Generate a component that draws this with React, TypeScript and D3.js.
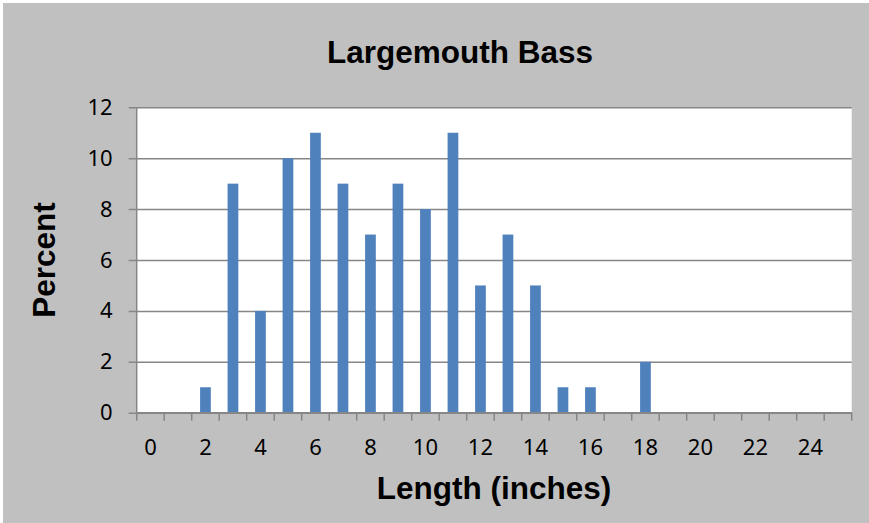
import { useEffect, useRef } from "react";
import * as d3 from "d3";

const LENGTHS = d3.range(0, 26).map(String);
const PERCENT = [0, 0, 1, 9, 4, 10, 11, 9, 7, 9, 8, 11, 5, 7, 5, 1, 1, 0, 2, 0, 0, 0, 0, 0, 0, 0];
const Y_TICKS = [0, 2, 4, 6, 8, 10, 12];
const X_LABELS = ["0", "2", "4", "6", "8", "10", "12", "14", "16", "18", "20", "22", "24"];

export default function App() {
  const svgRef = useRef<SVGSVGElement>(null);

  useEffect(() => {
    document.body.style.margin = "0";
    if (!svgRef.current) return;

    const svg = d3.select(svgRef.current);
    svg.selectAll("*").remove();

    const width = 869;
    const height = 523;
    const plot = { left: 136.7, right: 851.7, top: 107.3, bottom: 412.7 };
    const grid = "#868686";

    svg.append("rect").attr("width", width).attr("height", height).attr("fill", "#fff");
    svg.append("rect")
      .attr("x", 3).attr("y", 3)
      .attr("width", width - 3).attr("height", height - 3)
      .attr("fill", "#c0c0c0");

    const x = d3.scaleBand().domain(LENGTHS).range([plot.left, plot.right]);
    const y = d3.scaleLinear().domain([0, 12]).range([plot.bottom, plot.top]);

    // plot area
    svg.append("rect")
      .attr("x", plot.left).attr("y", plot.top)
      .attr("width", plot.right - plot.left).attr("height", plot.bottom - plot.top)
      .attr("fill", "#fff");

    // Y axis + gridlines
    svg.append("g")
      .attr("transform", `translate(${plot.left},0)`)
      .call(d3.axisLeft(y).tickValues(Y_TICKS).tickSize(8).tickPadding(16))
      .call((g) => {
        g.select(".domain").attr("stroke", grid).attr("stroke-width", 1.5).attr("d", `M0,${plot.top}V${plot.bottom}`);
        g.selectAll(".tick line").attr("stroke", grid).attr("stroke-width", 1.5)
          .attr("x1", plot.right - plot.left);
        g.selectAll(".tick text").attr("fill", "#000").attr("font-family", "Noto Sans").attr("font-size", "22px");
      });

    // X axis ticks at band edges
    const edges = d3.range(0, LENGTHS.length + 1).map((i) => plot.left + i * x.step());
    svg.append("g").selectAll("line")
      .data(edges)
      .join("line")
      .attr("x1", (d) => d).attr("x2", (d) => d)
      .attr("y1", plot.bottom).attr("y2", plot.bottom + 8)
      .attr("stroke", grid).attr("stroke-width", 1.5);

    // Bars
    const barW = x.bandwidth() * 0.39;
    svg.append("g").selectAll("rect")
      .data(PERCENT.map((v, i) => ({ label: LENGTHS[i], v })).filter((d) => d.v > 0))
      .join("rect")
      .attr("x", (d) => x(d.label)! + (x.bandwidth() - barW) / 2)
      .attr("y", (d) => y(d.v))
      .attr("width", barW)
      .attr("height", (d) => y(0) - y(d.v))
      .attr("fill", "#4f81bd");

    svg.append("line")
      .attr("x1", plot.left).attr("x2", plot.right)
      .attr("y1", plot.bottom).attr("y2", plot.bottom)
      .attr("stroke", grid).attr("stroke-width", 1.5);

    // X labels
    svg.append("g").selectAll("text")
      .data(X_LABELS)
      .join("text")
      .attr("x", (d) => x(d)! + x.bandwidth() / 2)
      .attr("y", 455)
      .attr("text-anchor", "middle")
      .attr("font-family", "Noto Sans")
      .attr("font-size", "22px")
      .text((d) => d);

    // Titles
    svg.append("text")
      .attr("x", 460).attr("y", 63)
      .attr("text-anchor", "middle")
      .attr("font-family", "Liberation Sans, Arial, sans-serif")
      .attr("font-weight", "bold")
      .attr("font-size", "31.5px")
      .text("Largemouth Bass");

    svg.append("text")
      .attr("x", 494).attr("y", 499)
      .attr("text-anchor", "middle")
      .attr("font-family", "Liberation Sans, Arial, sans-serif")
      .attr("font-weight", "bold")
      .attr("font-size", "31.5px")
      .text("Length (inches)");

    svg.append("text")
      .attr("transform", "translate(55,260) rotate(-90)")
      .attr("text-anchor", "middle")
      .attr("font-family", "Liberation Sans, Arial, sans-serif")
      .attr("font-weight", "bold")
      .attr("font-size", "31.5px")
      .text("Percent");
  }, []);

  return <svg ref={svgRef} width={869} height={523} style={{ display: "block" }} />;
}
